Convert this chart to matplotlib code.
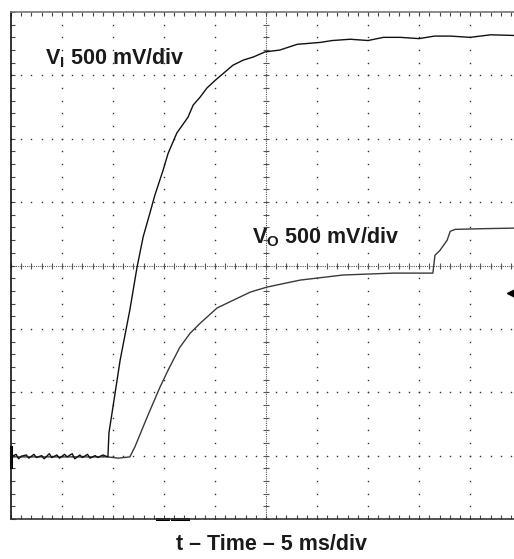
"""Scope capture: input and output voltage at power-up (500 mV/div, 5 ms/div)."""

import numpy as np
import matplotlib.pyplot as plt

plt.rcParams["font.family"] = ["Liberation Sans", "DejaVu Sans"]
plt.rcParams["mathtext.fontset"] = "custom"
plt.rcParams["mathtext.bf"] = "Liberation Sans:bold"
plt.rcParams["mathtext.rm"] = "Liberation Sans"

# --- trace data, in screen divisions (x: 5 ms/div, y: 500 mV/div) ---
vi_x = [0.0, 0.1, 0.15, 0.2, 0.3, 0.35, 0.45, 0.5, 0.6, 0.65, 0.75, 0.8, 0.9,
        0.95, 1.05, 1.1, 1.2, 1.25, 1.35, 1.4, 1.5, 1.55, 1.65, 1.7, 1.8, 1.9,
        1.92, 1.98, 2.14, 2.33, 2.47, 2.59, 2.71, 2.82, 2.98, 3.08, 3.25, 3.47,
        3.57, 3.71, 3.84, 4.00, 4.16, 4.35, 4.55, 4.75, 4.98, 5.27, 5.61, 6.06,
        6.3, 6.65, 7.0, 7.3, 7.63, 8.0, 8.3, 8.61, 9.0, 9.4, 9.86]
vi_y = [0.98, 1.02, 0.95, 0.99, 1.01, 0.96, 1.02, 0.97, 1.00, 0.95, 1.03, 0.97, 1.01,
        0.96, 1.02, 0.98, 1.03, 0.95, 1.01, 0.97, 1.02, 0.96, 1.00, 0.97, 1.01, 0.98,
        1.36, 1.67, 2.51, 3.30, 3.97, 4.45, 4.79, 5.11, 5.50, 5.77, 6.09, 6.34,
        6.53, 6.66, 6.80, 6.92, 7.03, 7.16, 7.24, 7.29, 7.37, 7.40, 7.49, 7.52,
        7.55, 7.57, 7.55, 7.60, 7.60, 7.58, 7.62, 7.62, 7.60, 7.64, 7.63]

vo_x = [0.0, 1.90, 2.10, 2.33, 2.43, 2.67, 2.92, 3.08, 3.31, 3.51, 3.71, 4.04,
        4.35, 4.69, 5.02, 5.67, 6.51, 7.49, 8.27, 8.31, 8.41, 8.55, 8.61, 8.71,
        9.2, 9.86]
vo_y = [0.98, 0.98, 0.96, 0.98, 1.14, 1.61, 2.08, 2.35, 2.71, 2.93, 3.09, 3.33,
        3.45, 3.58, 3.66, 3.77, 3.85, 3.88, 3.88, 4.16, 4.24, 4.40, 4.54, 4.57,
        4.58, 4.59]

ch_labels = [r"$\mathbf{V_I}$ 500 mV/div", r"$\mathbf{V_O}$ 500 mV/div"]
label_pos = [(0.66, 7.18), (4.72, 4.35)]
x_label = "t \u2013 Time \u2013 5 ms/div"

W, H = 514, 559
fig = plt.figure(figsize=(W / 100, H / 100), dpi=100)
ax = fig.add_axes([11 / W, 40 / H, 503 / W, 507 / H])
ax.set_xlim(0, 9.86)
ax.set_ylim(0, 8)

# graticule: dots every 1/5 division along the major lines
minor_x = np.arange(0, 10.01, 0.2)
minor_y = np.arange(0, 8.01, 0.2)
for k in range(1, 10):
    if k == 5:
        continue
    ax.plot(np.full_like(minor_y, k), minor_y, ls="none", marker="s",
            ms=1.0, color="#333333", mew=0)
for j in range(1, 8):
    if j == 4:
        continue
    ax.plot(minor_x, np.full_like(minor_x, j), ls="none", marker="s",
            ms=1.0, color="#333333", mew=0)

# centre cross with tick marks
ax.axhline(4, color="#555555", lw=0.8, ls=(0, (1, 1)))
ax.axvline(5, color="#555555", lw=0.8, ls=(0, (1, 1)))
ax.plot(minor_x, np.full_like(minor_x, 4), ls="none", marker="|", ms=5,
        mew=0.8, color="#555555")
ax.plot(np.full_like(minor_y, 5), minor_y, ls="none", marker="_", ms=5,
        mew=0.8, color="#555555")

# traces
ax.plot(vo_x, vo_y, color="#3a3a3a", lw=1.0)
ax.plot(vi_x, vi_y, color="#111111", lw=1.0)

# scope markers: ground reference, trigger level, trigger position
ax.plot([0, 0], [0.82, 1.14], color="black", lw=2.2, clip_on=False)
ax.plot([9.84], [3.56], marker="<", ms=8, color="black", clip_on=False)
ax.plot([2.86, 3.08], [0, 0], color="black", lw=2.2, clip_on=False)
ax.plot([3.16, 3.47], [0, 0], color="black", lw=2.2, clip_on=False)

for txt, (tx, ty) in zip(ch_labels, label_pos):
    ax.text(tx, ty, txt, fontsize=15.5, fontweight="bold", va="baseline",
            color="#1a1a1a")

# border with inward ticks every 1/5 division
ax.set_xticks(minor_x[minor_x <= 9.86])
ax.set_yticks(minor_y)
ax.tick_params(direction="in", length=3, width=0.8, colors="#444444",
               top=True, bottom=True, left=True, right=False,
               labelbottom=False, labelleft=False)
ax.spines["right"].set_visible(False)
ax.spines["top"].set_color("#777777")
ax.spines["left"].set_color("#111111")
ax.spines["bottom"].set_color("#333333")
for s in ("top", "left", "bottom"):
    ax.spines[s].set_linewidth(1.2)

fig.text(272 / W, 1 - 550 / H, x_label, ha="center", va="baseline",
         fontsize=15.5, fontweight="bold", color="#1a1a1a")

fig.savefig("out.png", dpi=100)
